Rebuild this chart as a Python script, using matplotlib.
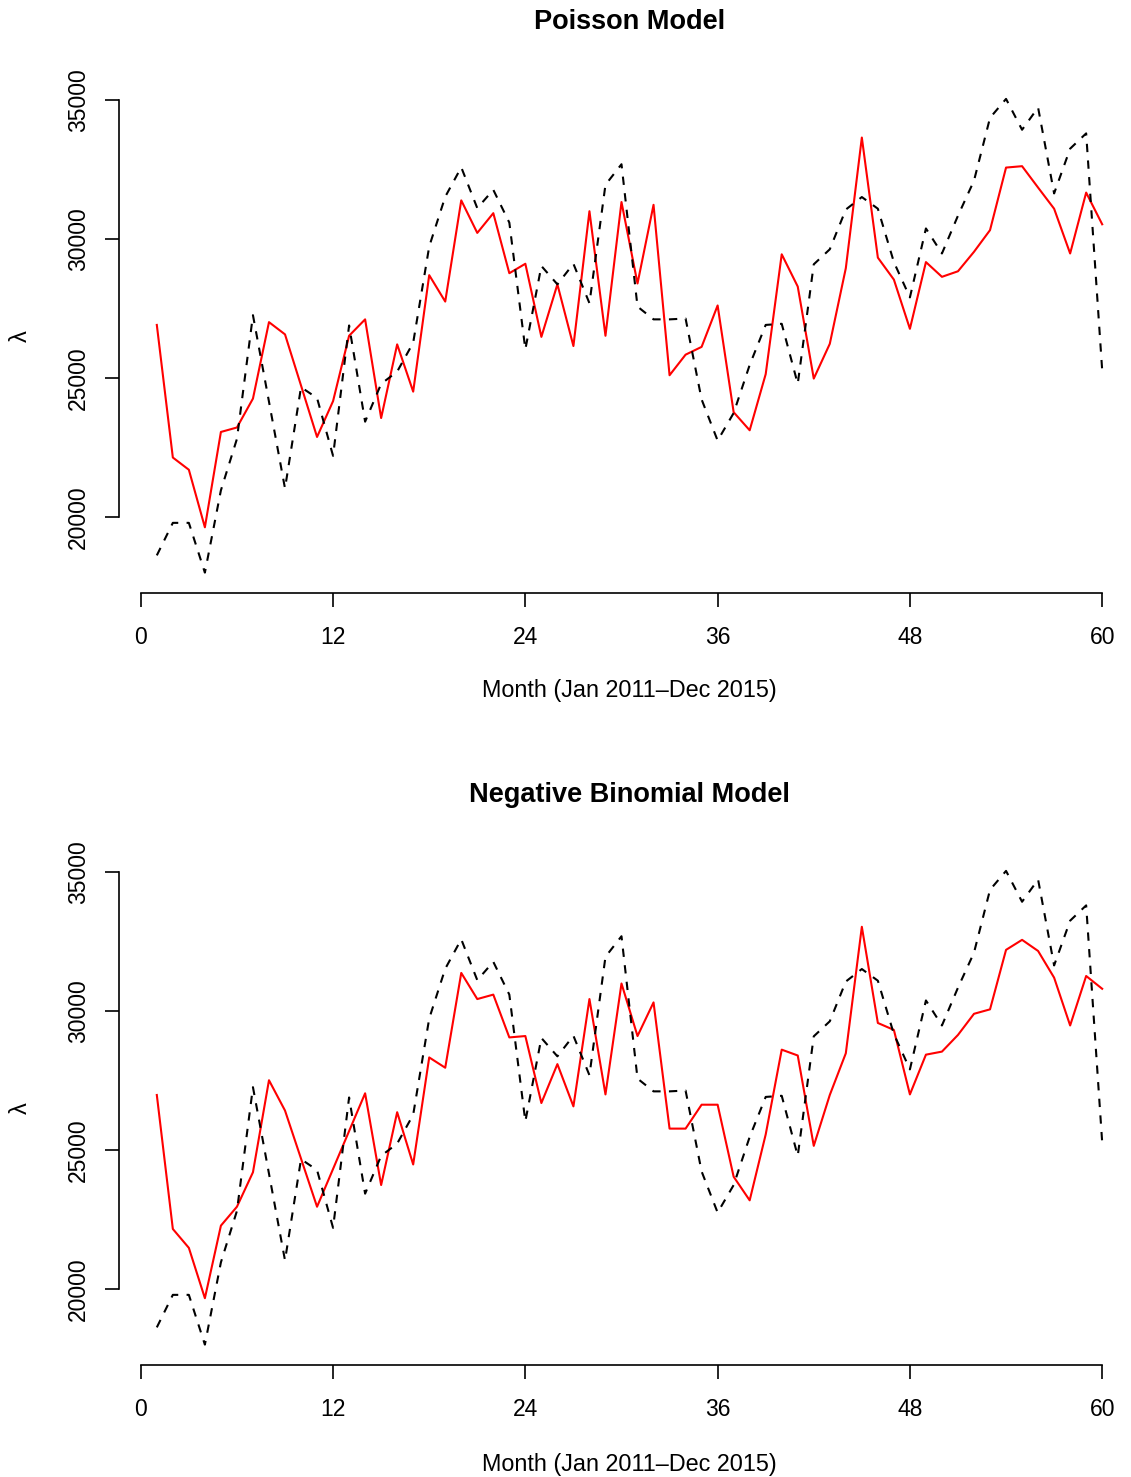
import matplotlib
matplotlib.use("Agg")
import matplotlib.pyplot as plt
import numpy as np

plt.rcParams["font.family"] = ["Liberation Sans", "DejaVu Sans"]

# months 1..60 (Jan 2011 - Dec 2015)
months = np.arange(1, 61)

# observed counts (black dashed, same in both panels)
observed = [18620, 19790, 19790, 18000, 20960, 22810, 27260, 24150, 21030, 24670,
            24280, 22200, 26890, 23430, 24790, 25230, 26270, 29730, 31520, 32580,
            31110, 31770, 30590, 26030, 29030, 28370, 29110, 27690, 31950, 32690,
            27570, 27110, 27110, 27140, 24230, 22750, 23740, 25470, 26910, 26950,
            24790, 29090, 29630, 31060, 31510, 31090, 29170, 27900, 30380, 29480,
            30840, 32100, 34360, 35040, 33930, 34730, 31640, 33250, 33800, 25280]

# fitted lambda, Poisson model (red)
poisson_fit = [26910, 22140, 21700, 19630, 23060, 23220, 24260, 27010, 26570, 24730,
               22880, 24170, 26520, 27110, 23560, 26210, 24510, 28700, 27750, 31390,
               30220, 30930, 28770, 29110, 26480, 28370, 26150, 31000, 26520, 31330,
               28400, 31230, 25100, 25840, 26120, 27610, 23770, 23120, 25140, 29450,
               28290, 24980, 26230, 28950, 33650, 29330, 28540, 26770, 29170, 28640,
               28840, 29540, 30320, 32570, 32620, 31850, 31090, 29480, 31670, 30530]

# fitted lambda, negative binomial model (red)
negbin_fit = [26980, 22160, 21480, 19670, 22280, 22960, 24200, 27510, 26420, 24690,
              22960, 24320, 25680, 27040, 23740, 26360, 24480, 28330, 27960, 31370,
              30430, 30590, 29050, 29100, 26690, 28090, 26570, 30430, 27000, 30990,
              29100, 30310, 25770, 25770, 26630, 26630, 24040, 23190, 25560, 28610,
              28400, 25150, 26980, 28480, 33030, 29570, 29320, 27000, 28430, 28540,
              29140, 29900, 30060, 32200, 32560, 32160, 31200, 29480, 31260, 30800]

titles = ["Poisson Model", "Negative Binomial Model"]
fits = [poisson_fit, negbin_fit]
xticks = [0, 12, 24, 36, 48, 60]
yticks = [20000, 25000, 30000, 35000]

W, H = 1131, 1477
fig = plt.figure(figsize=(W / 100, H / 100), dpi=100)

# (axes top px, axes bottom px, title y px, xlabel y px)
layout = [(80, 593, 22, 691), (852, 1365, 795, 1464)]

for (top, bot, ty, xly), title, fit in zip(layout, titles, fits):
    ax = fig.add_axes([119 / W, 1 - bot / H, (1140 - 119) / W, (bot - top) / H])
    ax.plot(months, fit, color="#ff0000", lw=1.5)
    ax.plot(months, observed, color="black", lw=1.5, dashes=(4, 4))
    ax.set_xlim(-1.36, 62.36)
    ax.set_ylim(17267, 35720)
    for s in ("top", "right"):
        ax.spines[s].set_visible(False)
    ax.spines["left"].set_bounds(20000, 35000)
    ax.spines["bottom"].set_bounds(0, 60)
    for s in ("left", "bottom"):
        ax.spines[s].set_linewidth(1.2)
    ax.set_xticks(xticks)
    ax.set_yticks(yticks)
    ax.set_yticklabels([str(v) for v in yticks], rotation=90, va="center")
    ax.tick_params(axis="both", direction="out", length=10, width=1.2, labelsize=16.5)
    ax.tick_params(axis="x", pad=14)
    ax.tick_params(axis="y", pad=11)
    fig.text(629.5 / W, 1 - ty / H, title, ha="center", va="center",
             fontsize=19.5, fontweight="bold")
    fig.text(629.5 / W, 1 - xly / H, "Month (Jan 2011\u2013Dec 2015)",
             ha="center", va="center", fontsize=16.8)
    fig.text(21 / W, 1 - (top + bot) / 2 / H, "\u03bb", ha="center", va="center",
             fontsize=17, rotation=90)

fig.savefig("out.png", dpi=100, facecolor="white")
